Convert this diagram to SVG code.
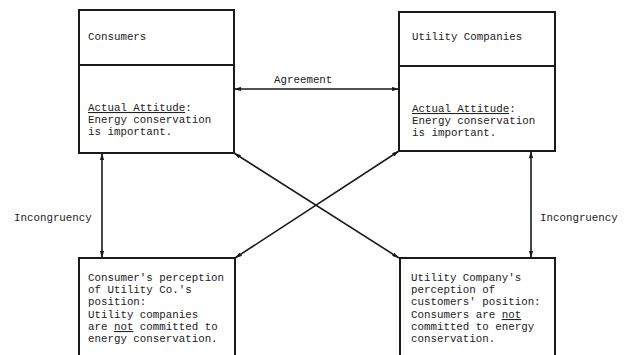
<svg xmlns="http://www.w3.org/2000/svg" width="629" height="355" viewBox="0 0 629 355">
<defs>
<style>
text{font-family:"Liberation Mono","DejaVu Sans Mono",monospace;font-size:10.8px;fill:#222}
.box{fill:none;stroke:#1a1a1a;stroke-width:2}
.con{fill:none;stroke:#1a1a1a;stroke-width:1.6;marker-start:url(#ah);marker-end:url(#ah)}
.u{text-decoration:underline}
</style>
<marker id="ah" viewBox="0 0 10 6" refX="10" refY="3" markerWidth="7" markerHeight="4.2" markerUnits="userSpaceOnUse" orient="auto-start-reverse">
<path d="M0,0 L10,3 L0,6 z" fill="#1a1a1a"/>
</marker>
</defs>
<rect width="629" height="355" fill="#ffffff"/>
<g id="consumers">
<rect class="box" x="79" y="10" width="155" height="143"/>
<line class="box" x1="79" y1="65" x2="234" y2="65"/>
<text x="88" y="40">Consumers</text>
<text x="88" y="111"><tspan class="u">Actual Attitude</tspan>:</text>
<text x="88" y="123">Energy conservation</text>
<text x="88" y="135">is important.</text>
</g>
<g id="utility">
<rect class="box" x="399" y="12" width="156" height="139"/>
<line class="box" x1="399" y1="66" x2="555" y2="66"/>
<text x="412" y="40">Utility Companies</text>
<text x="412" y="112"><tspan class="u">Actual Attitude</tspan>:</text>
<text x="412" y="124">Energy conservation</text>
<text x="412" y="136">is important.</text>
</g>
<g id="consumer-perception">
<rect class="box" x="79" y="258" width="156" height="120"/>
<text x="88" y="281">Consumer's perception</text>
<text x="88" y="293">of Utility Co.'s</text>
<text x="88" y="305">position:</text>
<text x="88" y="318">Utility companies</text>
<text x="88" y="330">are <tspan class="u">not</tspan> committed to</text>
<text x="88" y="342">energy conservation.</text>
</g>
<g id="utility-perception">
<rect class="box" x="400" y="258" width="155" height="120"/>
<text x="411" y="281">Utility Company's</text>
<text x="411" y="293">perception of</text>
<text x="411" y="305">customers' position:</text>
<text x="411" y="318">Consumers are <tspan class="u">not</tspan></text>
<text x="411" y="330">committed to energy</text>
<text x="411" y="342">conservation.</text>
</g>
<g id="connectors">
<line class="con" x1="234" y1="89" x2="399" y2="89"/>
<line class="con" x1="102" y1="153" x2="102" y2="258"/>
<line class="con" x1="531" y1="151" x2="531" y2="258"/>
<line class="con" x1="234" y1="153" x2="399" y2="258"/>
<line class="con" x1="399" y1="151" x2="235" y2="258"/>
<text x="274" y="83">Agreement</text>
<text x="14" y="221">Incongruency</text>
<text x="540" y="221">Incongruency</text>
</g>
</svg>
